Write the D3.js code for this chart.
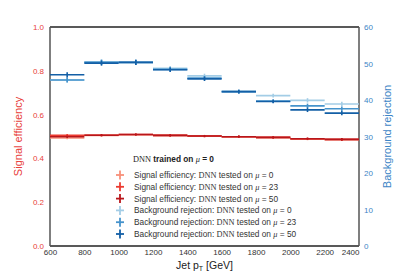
<!DOCTYPE html>
<html>
<head>
<meta charset="utf-8">
<script src="https://cdn.jsdelivr.net/npm/d3@7"></script>
<style>
  body { margin: 0; background: #fff; }
  text { font-family: "Liberation Sans", Arial, sans-serif; }
  .serif { font-family: "Liberation Serif", "DejaVu Serif", serif; }
</style>
</head>
<body>
<svg id="chart" width="399" height="274"></svg>
<script>
// bin edges in GeV
var binEdges = [600, 800, 1000, 1200, 1400, 1600, 1800, 2000, 2200, 2400];
var xTicks = [600, 800, 1000, 1200, 1400, 1600, 1800, 2000, 2200, 2400];
var effTicks = [0.0, 0.2, 0.4, 0.6, 0.8, 1.0];
var rejTicks = [0, 10, 20, 30, 40, 50, 60];

// signal efficiency per bin
var sigMu0 = [0.493, 0.505, 0.508, 0.505, 0.502, 0.499, 0.495, 0.488, 0.485];
var sigMu23 = [0.505, 0.506, 0.509, 0.505, 0.502, 0.499, 0.496, 0.490, 0.487];
var sigMu50 = [0.499, 0.506, 0.509, 0.505, 0.502, 0.499, 0.496, 0.490, 0.487];
var sigErr = [0.006, 0.005, 0.005, 0.005, 0.005, 0.005, 0.005, 0.005, 0.006];

// background rejection per bin
var bkgMu0 = [45.5, 50.5, 50.3, 48.7, 46.6, 42.3, 41.2, 39.9, 38.9];
var bkgMu23 = [45.5, 50.3, 50.3, 48.4, 46.0, 42.3, 39.7, 38.4, 37.6];
var bkgMu50 = [46.9, 50.1, 50.3, 48.3, 45.8, 42.3, 39.6, 37.3, 36.4];
var bkgErr = [0.7, 0.7, 0.7, 0.6, 0.6, 0.5, 0.5, 0.6, 0.6];

var series = [
  { values: sigMu0, err: sigErr, axis: "eff", color: "#f8907a", label: "Signal efficiency: ", mu: "0" },
  { values: sigMu23, err: sigErr, axis: "eff", color: "#ec3b30", label: "Signal efficiency: ", mu: "23" },
  { values: sigMu50, err: sigErr, axis: "eff", color: "#b8161b", label: "Signal efficiency: ", mu: "50" },
  { values: bkgMu0, err: bkgErr, axis: "rej", color: "#a3cde6", label: "Background rejection: ", mu: "0" },
  { values: bkgMu23, err: bkgErr, axis: "rej", color: "#4593cc", label: "Background rejection: ", mu: "23" },
  { values: bkgMu50, err: bkgErr, axis: "rej", color: "#135fa6", label: "Background rejection: ", mu: "50" }
];

var margin = { top: 27, right: 40, bottom: 28, left: 50 };
var width = 399 - margin.left - margin.right;
var height = 274 - margin.top - margin.bottom;

var redText = "#e8403a";
var blueText = "#3d85c6";

var svg = d3.select("#chart")
  .append("g")
  .attr("transform", "translate(" + margin.left + "," + margin.top + ")");

var xScale = d3.scaleLinear().domain([600, 2400]).range([0, width]);
var effScale = d3.scaleLinear().domain([0, 1]).range([height, 0]);
var rejScale = d3.scaleLinear().domain([0, 60]).range([height, 0]);

// axes
var xAxis = d3.axisBottom(xScale).tickValues(xTicks).tickSize(0).tickPadding(3).tickFormat(d3.format("d"));
var effAxis = d3.axisLeft(effScale).tickValues(effTicks).tickSize(0).tickPadding(6).tickFormat(d3.format(".1f"));
var rejAxis = d3.axisRight(rejScale).tickValues(rejTicks).tickSize(0).tickPadding(5).tickFormat(d3.format("d"));

var gx = svg.append("g").attr("transform", "translate(0," + height + ")").call(xAxis);
gx.selectAll("text").style("font-size", "8px").attr("fill", "#333");
// last label sits left of the right axis so it clears the "0" of the rejection axis
gx.selectAll(".tick").filter(function (d) { return d === 2400; })
  .select("text").attr("text-anchor", "end").attr("x", 0);
var gl = svg.append("g").call(effAxis);
gl.selectAll("text").style("font-size", "8px").attr("fill", redText);
var gr = svg.append("g").attr("transform", "translate(" + width + ",0)").call(rejAxis);
gr.selectAll("text").style("font-size", "8px").attr("fill", blueText);
svg.selectAll(".domain").remove();

// frame
svg.append("line").attr("x1", 0).attr("x2", width).attr("y1", 0).attr("y2", 0)
  .attr("stroke", "#222").attr("stroke-width", 1.3);
svg.append("line").attr("x1", 0).attr("x2", width).attr("y1", height).attr("y2", height)
  .attr("stroke", "#222").attr("stroke-width", 1.3);
svg.append("line").attr("x1", 0).attr("x2", 0).attr("y1", 0).attr("y2", height)
  .attr("stroke", "#555").attr("stroke-width", 1.5);
svg.append("line").attr("x1", width).attr("x2", width).attr("y1", 0).attr("y2", height)
  .attr("stroke", "#555").attr("stroke-width", 1.5);

// data: horizontal bin lines + vertical error bars
var marks = svg.append("g").attr("class", "marks");
series.forEach(function (s) {
  var yScale = s.axis === "eff" ? effScale : rejScale;
  var bins = s.values.map(function (v, i) {
    return { lo: binEdges[i], hi: binEdges[i + 1], v: v, e: s.err[i] };
  });
  var g = marks.append("g").attr("stroke", s.color).attr("fill", "none");
  g.selectAll(".h")
    .data(bins)
    .enter()
    .append("line")
    .attr("x1", function (d) { return xScale(d.lo); })
    .attr("x2", function (d) { return xScale(d.hi); })
    .attr("y1", function (d) { return yScale(d.v); })
    .attr("y2", function (d) { return yScale(d.v); })
    .attr("stroke-width", 1.6);
  g.selectAll(".v")
    .data(bins)
    .enter()
    .append("line")
    .attr("x1", function (d) { return xScale((d.lo + d.hi) / 2); })
    .attr("x2", function (d) { return xScale((d.lo + d.hi) / 2); })
    .attr("y1", function (d) { return yScale(d.v - d.e); })
    .attr("y2", function (d) { return yScale(d.v + d.e); })
    .attr("stroke-width", 1.6);
});

// axis titles
svg.append("text")
  .attr("x", width / 2)
  .attr("y", height + 23)
  .attr("text-anchor", "middle")
  .style("font-size", "10.5px")
  .attr("fill", "#222")
  .html('Jet p<tspan dy="2" style="font-size:7px">T</tspan><tspan dy="-2"> [GeV]</tspan>');

svg.append("text")
  .attr("transform", "translate(-28," + (height / 2) + ") rotate(-90)")
  .attr("text-anchor", "middle")
  .style("font-size", "11px")
  .attr("fill", redText)
  .text("Signal efficiency");

svg.append("text")
  .attr("transform", "translate(" + (width + 28) + "," + (height / 2) + ") rotate(-90)")
  .attr("text-anchor", "middle")
  .attr("dy", "0.35em")
  .style("font-size", "11px")
  .attr("fill", blueText)
  .text("Background rejection");

// legend
var legend = svg.append("g").attr("class", "legend")
  .attr("transform", "translate(70,132)");

var title = legend.append("text")
  .attr("x", 13)
  .attr("y", 0)
  .attr("dy", "0.35em")
  .style("font-size", "8.3px")
  .attr("fill", "#222");
title.append("tspan").attr("class", "serif").text("DNN");
title.append("tspan").style("font-weight", "bold").text(" trained on ");
title.append("tspan").attr("class", "serif").style("font-style", "italic").text("\u03bc");
title.append("tspan").style("font-weight", "bold").text(" = 0");

var rows = legend.selectAll(".legend-row")
  .data(series)
  .enter()
  .append("g")
  .attr("class", "legend-row")
  .attr("transform", function (d, i) { return "translate(0," + (16 + i * 11.8) + ")"; });

rows.append("line")
  .attr("x1", -4).attr("x2", 4).attr("y1", 0).attr("y2", 0)
  .attr("stroke", function (d) { return d.color; })
  .attr("stroke-width", 1.8);
rows.append("line")
  .attr("x1", 0).attr("x2", 0).attr("y1", -4.5).attr("y2", 4.5)
  .attr("stroke", function (d) { return d.color; })
  .attr("stroke-width", 1.8);

var labels = rows.append("text")
  .attr("x", 14)
  .attr("y", 0)
  .attr("dy", "0.35em")
  .style("font-size", "8.3px")
  .attr("fill", "#333");
labels.append("tspan").text(function (d) { return d.label; });
labels.append("tspan").attr("class", "serif").text("DNN");
labels.append("tspan").text(" tested on ");
labels.append("tspan").attr("class", "serif").style("font-style", "italic").text("\u03bc");
labels.append("tspan").text(function (d) { return " = " + d.mu; });
</script>
</body>
</html>
